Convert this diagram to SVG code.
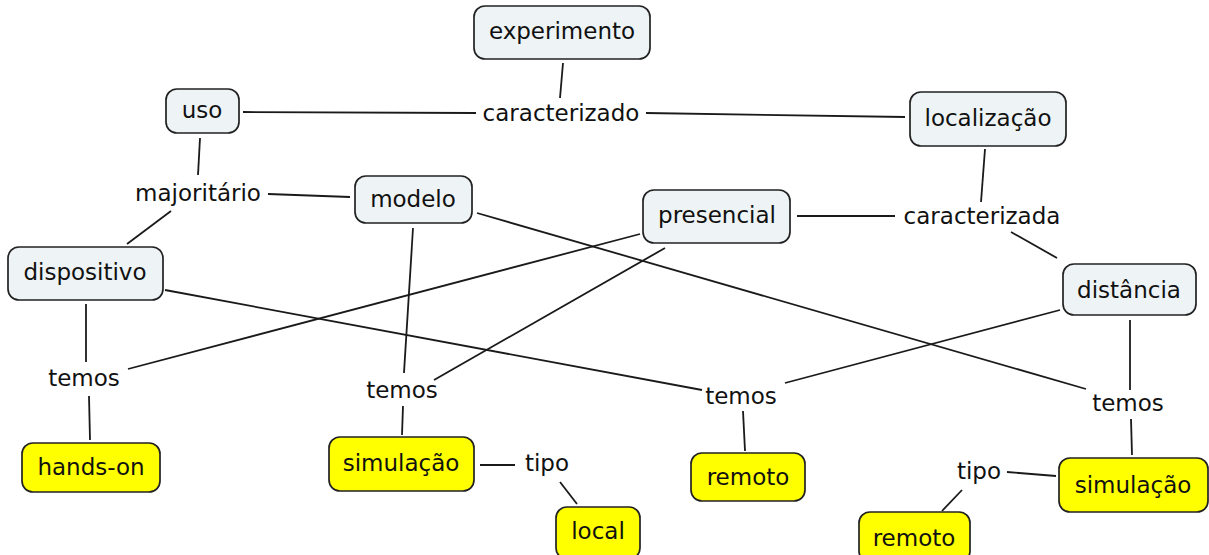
<svg xmlns="http://www.w3.org/2000/svg" width="1209" height="555" viewBox="0 0 1209 555">
  <style>
    .box { stroke: #222; stroke-width: 1.7; }
    .concept { fill: #eef3f5; }
    .leaf { fill: #ffff00; }
    text { font-family: "DejaVu Sans", Verdana, sans-serif; font-size: 23px; fill: #111; text-anchor: middle; dominant-baseline: central; }
    .links line { stroke: #1a1a1a; stroke-width: 1.8; fill: none; }
  </style>
  <rect width="1209" height="555" fill="#ffffff"/>

  <!-- connectors -->
  <g class="links">
    <line x1="563" y1="63" x2="560" y2="98"/>
    <line x1="243" y1="112" x2="476" y2="113"/>
    <line x1="646" y1="113" x2="905" y2="117"/>
    <line x1="200" y1="138" x2="198" y2="175"/>
    <line x1="268" y1="194" x2="350" y2="197"/>
    <line x1="171" y1="211" x2="127" y2="244"/>
    <line x1="985" y1="149" x2="981" y2="202"/>
    <line x1="797" y1="216" x2="895" y2="216"/>
    <line x1="1011" y1="232" x2="1057" y2="258"/>
    <line x1="86" y1="304" x2="86" y2="362"/>
    <line x1="89" y1="396" x2="90" y2="440"/>
    <line x1="640" y1="234" x2="128" y2="369"/>
    <line x1="165" y1="290" x2="702" y2="390"/>
    <line x1="413" y1="228" x2="404" y2="373"/>
    <line x1="665" y1="248" x2="434" y2="380"/>
    <line x1="403" y1="406" x2="402" y2="435"/>
    <line x1="477" y1="213" x2="1086" y2="389"/>
    <line x1="1060" y1="310" x2="785" y2="383"/>
    <line x1="743" y1="411" x2="745" y2="451"/>
    <line x1="1130" y1="320" x2="1130" y2="390"/>
    <line x1="1131" y1="419" x2="1132" y2="455"/>
    <line x1="480" y1="465" x2="515" y2="465"/>
    <line x1="560" y1="482" x2="577" y2="504"/>
    <line x1="1007" y1="472" x2="1056" y2="476"/>
    <line x1="962" y1="490" x2="942" y2="511"/>
  </g>

  <!-- linking phrases -->
  <g id="lbl-caracterizado"><text x="561" y="113">caracterizado</text></g>
  <g id="lbl-majoritario"><text x="198" y="193">majoritário</text></g>
  <g id="lbl-caracterizada"><text x="982" y="216">caracterizada</text></g>
  <g id="lbl-temos-1"><text x="84" y="378">temos</text></g>
  <g id="lbl-temos-2"><text x="402" y="390">temos</text></g>
  <g id="lbl-temos-3"><text x="741" y="396">temos</text></g>
  <g id="lbl-temos-4"><text x="1128" y="403">temos</text></g>
  <g id="lbl-tipo-1"><text x="547" y="463">tipo</text></g>
  <g id="lbl-tipo-2"><text x="979" y="471">tipo</text></g>

  <!-- concepts -->
  <g id="experimento"><rect class="box concept" x="474" y="6" width="176" height="53" rx="11"/><text x="562" y="31">experimento</text></g>
  <g id="uso"><rect class="box concept" x="166" y="89" width="73" height="44" rx="11"/><text x="202" y="110">uso</text></g>
  <g id="localizacao"><rect class="box concept" x="910" y="92" width="156" height="54" rx="11"/><text x="988" y="118">localização</text></g>
  <g id="modelo"><rect class="box concept" x="355" y="176" width="117" height="47" rx="11"/><text x="413" y="199">modelo</text></g>
  <g id="presencial"><rect class="box concept" x="643" y="190" width="147" height="53" rx="11"/><text x="717" y="215">presencial</text></g>
  <g id="dispositivo"><rect class="box concept" x="8" y="247" width="155" height="53" rx="11"/><text x="85" y="272">dispositivo</text></g>
  <g id="distancia"><rect class="box concept" x="1063" y="264" width="133" height="51" rx="11"/><text x="1129" y="290">distância</text></g>

  <!-- leaves -->
  <g id="hands-on"><rect class="box leaf" x="22" y="443" width="138" height="49" rx="11"/><text x="91" y="467">hands-on</text></g>
  <g id="simulacao-1"><rect class="box leaf" x="329" y="437" width="145" height="54" rx="11"/><text x="401" y="463">simulação</text></g>
  <g id="local"><rect class="box leaf" x="556" y="507" width="84" height="52" rx="11"/><text x="598" y="531">local</text></g>
  <g id="remoto-1"><rect class="box leaf" x="691" y="453" width="114" height="48" rx="11"/><text x="748" y="477">remoto</text></g>
  <g id="simulacao-2"><rect class="box leaf" x="1059" y="458" width="149" height="54" rx="11"/><text x="1133" y="485">simulação</text></g>
  <g id="remoto-2"><rect class="box leaf" x="859" y="512" width="111" height="50" rx="11"/><text x="914" y="538">remoto</text></g>
</svg>
